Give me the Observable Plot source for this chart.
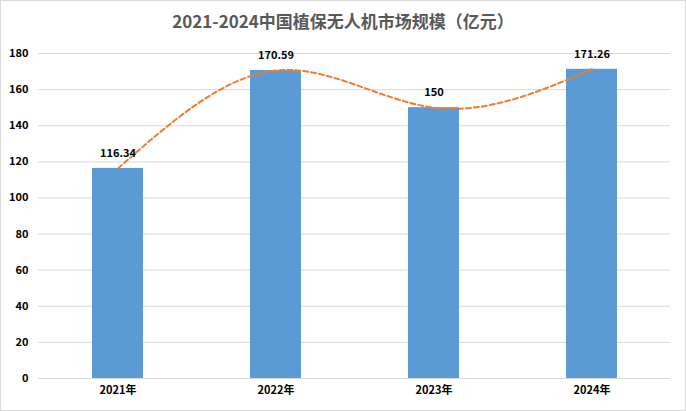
<!DOCTYPE html>
<html><head><meta charset="utf-8">
<script src="https://cdn.jsdelivr.net/npm/d3@7"></script>
<script src="https://cdn.jsdelivr.net/npm/@observablehq/plot@0.6"></script>
<style>
body{margin:0;background:#fff;}
#wrap{width:684px;height:409px;border:1px solid #d9d9d9;position:relative;overflow:hidden;font-family:"Noto Sans CJK SC","Liberation Sans",sans-serif;}
#title{height:37px;line-height:40px;text-align:center;font-size:17px;font-weight:bold;color:#595959;}
</style></head>
<body><div id="wrap"><div id="title">2021-2024中国植保无人机市场规模（亿元）</div><div id="chart"></div></div>
<script>
const years = ["2021年","2022年","2023年","2024年"];
const values = [116.34, 170.59, 150, 171.26];
const labels = ["116.34","170.59","150","171.26"];
const yTicks = [0,20,40,60,80,100,120,140,160,180];
const data = years.map((y,i)=>({year:y,value:values[i],label:labels[i]}));
const chart = Plot.plot({
  width: 684, height: 372,
  marginTop: 15, marginBottom: 32, marginLeft: 37, marginRight: 15,
  style:{fontFamily:"'Noto Sans CJK SC','Liberation Sans',sans-serif",fontSize:"11px",color:"#000"},
  x:{domain:years,paddingInner:0.68,paddingOuter:0.34,label:null},
  y:{domain:[0,180],label:null},
  marks:[
    Plot.gridY(yTicks,{stroke:"#d9d9d9",strokeOpacity:1}),
    Plot.barY(data,{x:"year",y:"value",fill:"#5b9bd5"}),
    Plot.line(data,{x:"year",y:"value",stroke:"#ed7d31",strokeWidth:2,strokeDasharray:"5,3",curve:"natural"}),
    Plot.text(data,{x:"year",y:"value",text:"label",dy:-15,fontWeight:"bold",fill:"#000"}),
    Plot.axisX({tickSize:0,tickPadding:8,fontWeight:"bold",label:null}),
    Plot.axisY({ticks:yTicks,tickSize:0,tickPadding:10,fontWeight:"bold",label:null,tickFormat:d=>String(d)})
  ]
});
document.getElementById("chart").appendChild(chart);
</script></body></html>
